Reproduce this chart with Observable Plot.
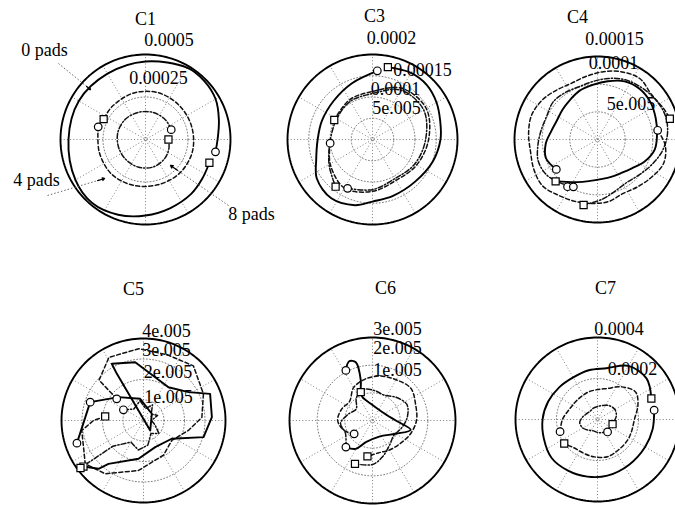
<!DOCTYPE html>
<html><head><meta charset="utf-8">
<script src="https://cdn.jsdelivr.net/npm/d3@7"></script>
<script src="https://cdn.jsdelivr.net/npm/@observablehq/plot@0.6"></script>
<style>
html,body{margin:0;padding:0;background:#fff;}
#chart{position:relative;width:675px;height:505px;overflow:hidden;background:#fff;}
#chart svg{position:absolute;left:0;top:0;}
</style></head><body><div id="chart"></div>
<script>
// ---------- DATA (angles in degrees, radii in data units) ----------
const titles = ["C1", "C3", "C4", "C5", "C6", "C7"];
const padLabels = ["0 pads", "4 pads", "8 pads"];

// C1
const c1Ticks = [0.00025, 0.0005];
const c1TickLabels = ["0.00025", "0.0005"];
const c1SolidTheta = [-10, 0, 15, 30, 45, 60, 90, 120, 150, 180, 210, 230, 250, 270, 290, 310, 325, 340];
const c1SolidR = [4.18e-4, 4.24e-4, 4.47e-4, 4.76e-4, 4.88e-4, 4.88e-4, 4.59e-4, 4.47e-4, 4.53e-4, 4.53e-4, 4.76e-4, 4.88e-4, 4.71e-4, 4.47e-4, 4.29e-4, 4.18e-4, 4.06e-4, 4.00e-4];
const c1DashTheta = [165, 195, 225, 255, 285, 315, 345, 375, 405, 435, 465, 495, 514];
const c1DashR = [2.88e-4, 2.82e-4, 2.85e-4, 2.79e-4, 2.76e-4, 2.82e-4, 2.85e-4, 2.82e-4, 2.82e-4, 2.85e-4, 2.82e-4, 2.76e-4, 2.74e-4];
const c1DotTheta = [21, 45, 75, 105, 135, 165, 195, 225, 255, 285, 315, 340, 360];
const c1DotR = [1.62e-4, 1.65e-4, 1.65e-4, 1.65e-4, 1.68e-4, 1.68e-4, 1.65e-4, 1.65e-4, 1.68e-4, 1.68e-4, 1.59e-4, 1.47e-4, 1.35e-4];
const c1CircleTheta = [-10, 165, 21], c1CircleR = [4.18e-4, 2.88e-4, 1.62e-4];
const c1SquareTheta = [340, 154, 0], c1SquareR = [4.00e-4, 2.74e-4, 1.35e-4];

// C3
const c3Ticks = [5e-5, 1e-4, 1.5e-4, 2e-4];
const c3TickLabels = ["5e.005", "0.0001", "0.00015", "0.0002"];
const c3SolidTheta = [86, 110, 135, 160, 180, 200, 215, 235, 255, 270, 290, 315, 340, 360, 375, 390, 405, 420, 438];
const c3SolidR = [1.62e-4, 1.41e-4, 1.29e-4, 1.27e-4, 1.29e-4, 1.41e-4, 1.60e-4, 1.69e-4, 1.60e-4, 1.46e-4, 1.41e-4, 1.41e-4, 1.51e-4, 1.60e-4, 1.65e-4, 1.74e-4, 1.81e-4, 1.81e-4, 1.74e-4];
const c3DashTheta = [185, 210, 240, 270, 300, 330, 360, 390, 420, 450, 480, 513];
const c3DashR = [1.00e-4, 1.15e-4, 1.32e-4, 1.22e-4, 1.11e-4, 1.20e-4, 1.32e-4, 1.46e-4, 1.39e-4, 1.13e-4, 1.08e-4, 1.01e-4];
const c3DotTheta = [243, 270, 300, 330, 360, 390, 420, 450, 480, 510, 540, 570, 592];
const c3DotR = [1.29e-4, 1.18e-4, 1.06e-4, 1.15e-4, 1.25e-4, 1.39e-4, 1.34e-4, 1.08e-4, 1.04e-4, 0.97e-4, 0.99e-4, 1.18e-4, 1.41e-4];
const c3CircleTheta = [86, 185, 243], c3CircleR = [1.62e-4, 1.00e-4, 1.29e-4];
const c3SquareTheta = [78, 153, 232], c3SquareR = [1.74e-4, 1.01e-4, 1.41e-4];

// C4
const c4Ticks = [5e-5, 1e-4, 1.5e-4];
const c4TickLabels = ["5e.005", "0.0001", "0.00015"];
const c4SolidTheta = [216, 200, 185, 170, 155, 140, 125, 110, 95, 80, 65, 50, 35, 20, 5, -10, -25, -40, -55, -70, -85, -100, -115, -135];
const c4SolidR = [0.92e-4, 0.99e-4, 0.94e-4, 0.85e-4, 0.81e-4, 0.83e-4, 0.87e-4, 0.94e-4, 0.99e-4, 1.07e-4, 1.16e-4, 1.19e-4, 1.17e-4, 1.12e-4, 1.08e-4, 1.05e-4, 0.94e-4, 0.81e-4, 0.74e-4, 0.72e-4, 0.72e-4, 0.76e-4, 0.85e-4, 1.07e-4];
const c4DashTheta = [8.7, -5, -20, -35, -50, -65, -80, -95, -110, -125, -140, -155, -170, -185, -200, -215, -230, -245, -260, -275, -290, -305, -320, -335, -344];
const c4DashR = [1.10e-4, 1.23e-4, 1.27e-4, 1.19e-4, 1.12e-4, 1.08e-4, 1.14e-4, 1.16e-4, 1.19e-4, 1.23e-4, 1.30e-4, 1.27e-4, 1.23e-4, 1.25e-4, 1.27e-4, 1.23e-4, 1.16e-4, 1.12e-4, 1.16e-4, 1.23e-4, 1.30e-4, 1.34e-4, 1.27e-4, 1.32e-4, 1.36e-4];
const c4DotTheta = [243, 230, 215, 200, 185, 170, 155, 140, 125, 110, 95, 80, 65, 50, 35, 20, 5, -10, -25, -40, -55, -70, -85, -102];
const c4DotR = [0.96e-4, 1.03e-4, 1.12e-4, 1.14e-4, 1.08e-4, 1.03e-4, 1.01e-4, 1.05e-4, 1.03e-4, 1.01e-4, 1.05e-4, 1.12e-4, 1.19e-4, 1.23e-4, 1.27e-4, 1.30e-4, 1.27e-4, 1.19e-4, 1.08e-4, 0.99e-4, 0.94e-4, 0.98e-4, 1.08e-4, 1.21e-4];
const c4CircleTheta = [8.7, 216, 237.6, 243], c4CircleR = [1.10e-4, 0.92e-4, 1.01e-4, 0.96e-4];
const c4SquareTheta = [16, 225, 258], c4SquareR = [1.36e-4, 1.07e-4, 1.21e-4];

// C5
const c5Ticks = [1e-5, 2e-5, 3e-5, 4e-5];
const c5TickLabels = ["1e.005", "2e.005", "3e.005", "4e.005"];
const c5SolidTheta = [198.8, 161, 137, 98.7, 39, -56, 119.7, 119.2, 98.1, 74.9, 53.1, 32.2, 21.8, 2.8, -15.5, -32.9, -66.3, -97.4, -128.9, -133, -142.5];
const c5SolidR = [3.43e-5, 2.75e-5, 1.67e-5, 1.07e-5, 0.52e-5, 0.59e-5, 2.62e-5, 3.17e-5, 2.87e-5, 2.19e-5, 2.03e-5, 2.60e-5, 3.50e-5, 3.34e-5, 3.04e-5, 1.64e-5, 1.42e-5, 1.88e-5, 2.72e-5, 3.22e-5, 3.69e-5];
const c5DashTheta = [141, 137.7, 118.7, 93.8, 70, 47.6, 24, 3, -12.5, -35, -60, -95.7, -125.7, -143.4, -170.8, -180, -186];
const c5DashR = [1.68e-5, 2.93e-5, 3.51e-5, 3.51e-5, 3.41e-5, 3.61e-5, 3.20e-5, 2.85e-5, 2.24e-5, 1.69e-5, 1.95e-5, 2.45e-5, 3.20e-5, 3.54e-5, 3.05e-5, 2.44e-5, 1.88e-5];
const c5DotTheta = [152, 130, 100, 80, 60, 40, 20, 0, -20, -40, -60, -80, -100, -120, -140, -143];
const c5DotR = [1.11e-5, 0.73e-5, 0.98e-5, 0.59e-5, 0.88e-5, 0.49e-5, 0.73e-5, 0.39e-5, 0.59e-5, 0.98e-5, 0.73e-5, 1.22e-5, 1.46e-5, 1.22e-5, 1.95e-5, 3.85e-5];
const c5CircleTheta = [198.8, 161, 141, 152], c5CircleR = [3.43e-5, 2.75e-5, 1.68e-5, 1.11e-5];
const c5SquareTheta = [174, 217.5, 217], c5SquareR = [1.88e-5, 3.69e-5, 3.85e-5];

// C6
const c6Ticks = [1e-5, 2e-5, 3e-5];
const c6TickLabels = ["1e.005", "2e.005", "3e.005"];
const c6SolidTheta = [118, 111.5, 106, 106.3, 112.5, 113.2, 95.8, 39.7, 0, -13.7, -29.7, -67.3, -107, -120.5, -135];
const c6SolidR = [2.05e-5, 2.30e-5, 2.19e-5, 1.51e-5, 1.11e-5, 0.92e-5, 0.61e-5, 0.47e-5, 0.84e-5, 1.42e-5, 0.97e-5, 0.63e-5, 0.82e-5, 1.19e-5, 1.36e-5];
const c6DashTheta = [216, 200, 180, 160, 140, 120, 100, 80, 60, 40, 20, 0, -20, -40, -60, -80, -98];
const c6DashR = [0.82e-5, 1.08e-5, 1.26e-5, 1.19e-5, 1.08e-5, 1.37e-5, 1.52e-5, 1.63e-5, 1.70e-5, 1.81e-5, 1.66e-5, 1.59e-5, 1.45e-5, 1.30e-5, 1.23e-5, 1.19e-5, 1.31e-5];
const c6DotTheta = [225, 205, 185, 165, 145, 125, 105, 85, 65, 45, 25, 5, -15, -35, -55, -75, -90, -112];
const c6DotR = [1.36e-5, 1.08e-5, 1.16e-5, 0.90e-5, 0.72e-5, 1.01e-5, 1.16e-5, 1.08e-5, 1.01e-5, 1.19e-5, 1.37e-5, 1.26e-5, 1.08e-5, 0.94e-5, 1.08e-5, 1.37e-5, 1.59e-5, 1.69e-5];
const c6CircleTheta = [118, 216, 225], c6CircleR = [2.05e-5, 0.82e-5, 1.36e-5];
const c6SquareTheta = [112.5, 262, 248], c6SquareR = [1.11e-5, 1.31e-5, 1.69e-5];

// C7
const c7Ticks = [2e-4, 4e-4];
const c7TickLabels = ["0.0002", "0.0004"];
const c7SolidTheta = [9.3, -10, -30, -55, -80, -100, -120, -140, -160, -180, -200, -220, -240, -260, -280, -300, -320, -338.7];
const c7SolidR = [2.80e-4, 2.73e-4, 2.68e-4, 2.69e-4, 2.78e-4, 2.83e-4, 2.88e-4, 2.92e-4, 2.78e-4, 2.68e-4, 2.56e-4, 2.44e-4, 2.37e-4, 2.44e-4, 2.54e-4, 3.02e-4, 3.12e-4, 2.82e-4];
const c7DashTheta = [198, 180, 160, 136, 110, 90, 72, 55, 36, 20, 0, -20, -35, -55, -75, -95, -111, -130, -144.2];
const c7DashR = [1.92e-4, 1.71e-4, 1.46e-4, 1.37e-4, 1.41e-4, 1.46e-4, 1.59e-4, 1.95e-4, 2.29e-4, 2.10e-4, 1.80e-4, 1.76e-4, 1.78e-4, 1.80e-4, 1.88e-4, 1.83e-4, 1.78e-4, 1.80e-4, 2.00e-4];
const c7DotTheta = [309, 290, 270, 250, 230, 210, 190, 170, 150, 130, 110, 90, 70, 50, 30, 10, -17.4];
const c7DotR = [0.78e-4, 0.68e-4, 0.63e-4, 0.59e-4, 0.68e-4, 0.83e-4, 0.88e-4, 0.73e-4, 0.59e-4, 0.54e-4, 0.59e-4, 0.63e-4, 0.73e-4, 0.88e-4, 0.98e-4, 0.93e-4, 0.77e-4];
const c7CircleTheta = [9.3, 198, 309], c7CircleR = [2.80e-4, 1.92e-4, 0.78e-4];
const c7SquareTheta = [21.3, 215.8, 342.6], c7SquareR = [2.82e-4, 2.00e-4, 0.77e-4];

// ---------- LAYOUT (page pixels) ----------
const layout = [
  {cx: 145, cy: 139, R: 85, title: [145, 19], labels: [[158, 78], [168.5, 40]]},
  {cx: 372, cy: 139, R: 85, title: [374, 16], labels: [[396, 107.5], [395, 88.5], [422, 70], [391, 38]]},
  {cx: 597, cy: 139, R: 83, title: [577, 16.5], labels: [[630.5, 103.5], [613, 62.5], [614, 38.5]]},
  {cx: 143, cy: 420, R: 82, title: [133, 289], labels: [[168, 396.5], [167.5, 372], [166, 350], [166, 331]]},
  {cx: 372, cy: 420, R: 83, title: [385, 287.5], labels: [[397, 370], [397, 348], [397, 329]]},
  {cx: 597, cy: 419, R: 82, title: [605, 287.5], labels: [[632, 369], [618.5, 329]]}
];
const padLayout = [
  {at: [44, 50], from: [58, 63], to: [90, 89]},
  {at: [36, 180], from: [47, 195], to: [104, 178]},
  {at: [251, 214], from: [228, 205], to: [170, 165]}
];

const panels = [
  {ticks: c1Ticks, tickLabels: c1TickLabels, solid: [c1SolidTheta, c1SolidR], dash: [c1DashTheta, c1DashR], dot: [c1DotTheta, c1DotR], circles: [c1CircleTheta, c1CircleR], squares: [c1SquareTheta, c1SquareR], curve: "catmull-rom"},
  {ticks: c3Ticks, tickLabels: c3TickLabels, solid: [c3SolidTheta, c3SolidR], dash: [c3DashTheta, c3DashR], dot: [c3DotTheta, c3DotR], circles: [c3CircleTheta, c3CircleR], squares: [c3SquareTheta, c3SquareR], curve: "catmull-rom"},
  {ticks: c4Ticks, tickLabels: c4TickLabels, solid: [c4SolidTheta, c4SolidR], dash: [c4DashTheta, c4DashR], dot: [c4DotTheta, c4DotR], circles: [c4CircleTheta, c4CircleR], squares: [c4SquareTheta, c4SquareR], curve: "catmull-rom"},
  {ticks: c5Ticks, tickLabels: c5TickLabels, solid: [c5SolidTheta, c5SolidR], dash: [c5DashTheta, c5DashR], dot: [c5DotTheta, c5DotR], circles: [c5CircleTheta, c5CircleR], squares: [c5SquareTheta, c5SquareR], curve: "linear"},
  {ticks: c6Ticks, tickLabels: c6TickLabels, solid: [c6SolidTheta, c6SolidR], dash: [c6DashTheta, c6DashR], dot: [c6DotTheta, c6DotR], circles: [c6CircleTheta, c6CircleR], squares: [c6SquareTheta, c6SquareR], curve: "catmull-rom"},
  {ticks: c7Ticks, tickLabels: c7TickLabels, solid: [c7SolidTheta, c7SolidR], dash: [c7DashTheta, c7DashR], dot: [c7DotTheta, c7DotR], circles: [c7CircleTheta, c7CircleR], squares: [c7SquareTheta, c7SquareR], curve: "catmull-rom"}
];

const DEG = Math.PI / 180;
const FONT = "'Liberation Serif', 'Times New Roman', serif";
const toXY = ([theta, r]) => theta.map((t, i) => ({x: r[i] * Math.cos(t * DEG), y: r[i] * Math.sin(t * DEG)}));
const ring = v => d3.range(0, 361, 2).map(t => ({x: v * Math.cos(t * DEG), y: v * Math.sin(t * DEG)}));

const chart = document.getElementById("chart");

panels.forEach((p, pi) => {
  const L = layout[pi];
  const rmax = p.ticks[p.ticks.length - 1];
  const k = rmax / L.R;
  const X = px => (px - L.cx) * k;
  const Y = py => (L.cy - py) * k;
  const grid = {stroke: "#6e6e6e", strokeWidth: 0.9, strokeDasharray: "1,2.2"};
  const marks = [];
  // dotted rings
  p.ticks.slice(0, -1).forEach(v => marks.push(Plot.line(ring(v), {x: "x", y: "y", ...grid})));
  // dotted spokes every 30 degrees
  marks.push(Plot.link([0, 30, 60, 90, 120, 150], {
    x1: a => -rmax * Math.cos(a * DEG), y1: a => -rmax * Math.sin(a * DEG),
    x2: a => rmax * Math.cos(a * DEG), y2: a => rmax * Math.sin(a * DEG), ...grid
  }));
  // outer circle
  marks.push(Plot.line(ring(rmax), {x: "x", y: "y", stroke: "#000", strokeWidth: 1.9}));
  // ring labels
  marks.push(Plot.text(p.tickLabels, {
    x: (d, i) => X(L.labels[i][0]), y: (d, i) => Y(L.labels[i][1]), text: d => d,
    fontSize: 18, fontFamily: FONT, fill: "#000"
  }));
  // curves
  marks.push(Plot.line(toXY(p.dot), {x: "x", y: "y", stroke: "#111", strokeWidth: 1.5, strokeDasharray: "5,2,1.3,2", curve: p.curve}));
  marks.push(Plot.line(toXY(p.dash), {x: "x", y: "y", stroke: "#111", strokeWidth: 1.5, strokeDasharray: "4,2.5", curve: p.curve}));
  marks.push(Plot.line(toXY(p.solid), {x: "x", y: "y", stroke: "#000", strokeWidth: 1.9, curve: p.curve}));
  // markers
  marks.push(Plot.dot(toXY(p.circles), {x: "x", y: "y", symbol: "circle", r: 3.8, fill: "white", stroke: "#000", strokeWidth: 1.2}));
  marks.push(Plot.dot(toXY(p.squares), {x: "x", y: "y", symbol: "square", r: 4, fill: "white", stroke: "#000", strokeWidth: 1.2}));
  // title
  marks.push(Plot.text([titles[pi]], {x: () => X(L.title[0]), y: () => Y(L.title[1]), text: d => d, fontSize: 18, fontFamily: FONT, fill: "#000"}));
  // pad annotations in C1
  if (pi === 0) {
    const ann = padLabels.map((t, i) => ({t, ...padLayout[i]}));
    marks.push(Plot.link(ann, {x1: d => X(d.from[0]), y1: d => Y(d.from[1]), x2: d => X(d.to[0]), y2: d => Y(d.to[1]), stroke: "#555", strokeWidth: 0.9, strokeDasharray: "1.5,2"}));
    marks.push(Plot.arrow(ann, {
      x1: d => X(d.to[0] - (d.to[0] - d.from[0]) * 0.12), y1: d => Y(d.to[1] - (d.to[1] - d.from[1]) * 0.12),
      x2: d => X(d.to[0]), y2: d => Y(d.to[1]), stroke: "#000", strokeWidth: 1.3, headLength: 7
    }));
    marks.push(Plot.text(ann, {x: d => X(d.at[0]), y: d => Y(d.at[1]), text: "t", fontSize: 18, fontFamily: FONT, fill: "#000"}));
  }
  const svg = Plot.plot({
    width: 675, height: 505, margin: 0,
    style: {background: "transparent", overflow: "visible", fontFamily: FONT},
    x: {domain: [-rmax, rmax], range: [L.cx - L.R, L.cx + L.R], axis: null},
    y: {domain: [-rmax, rmax], range: [L.cy + L.R, L.cy - L.R], axis: null},
    marks
  });
  chart.appendChild(svg);
});
</script>
</body></html>
